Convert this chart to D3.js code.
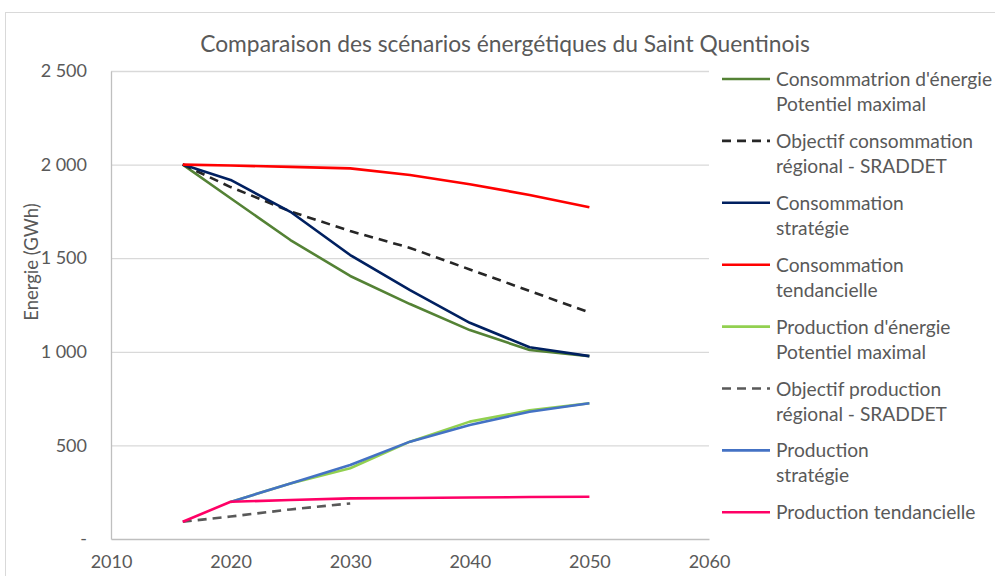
<!DOCTYPE html>
<html>
<head>
<meta charset="utf-8">
<script src="https://cdn.jsdelivr.net/npm/d3@7"></script>
<style>
  body { margin: 0; background: #fff; }
  text { font-family: Lato, "Open Sans", sans-serif; fill: #595959; }
</style>
</head>
<body>
<div id="chart"></div>
<script>
// years where the scenarios have values
var years = [2016, 2020, 2025, 2030, 2035, 2040, 2045, 2050];
var yearsSraddetProd = [2016, 2020, 2025, 2030];

var consoMax = [2000, 1820, 1597, 1405, 1255, 1116, 1010, 977];
var consoSraddet = [2000, 1880, 1750, 1645, 1555, 1440, 1325, 1210];
var consoStrategie = [2000, 1918, 1748, 1517, 1330, 1155, 1024, 977];
var consoTendance = [2000, 1995, 1988, 1980, 1944, 1895, 1838, 1772];
var prodMax = [null, 198, 297, 378, 520, 627, 687, 725];
var prodSraddet = [92, 120, 158, 190];
var prodStrategie = [null, 198, 297, 395, 520, 609, 680, 725];
var prodTendance = [92, 199, 208, 217, 219, 222, 224, 226];

var xTicks = [2010, 2020, 2030, 2040, 2050, 2060];
var yTicks = [0, 500, 1000, 1500, 2000, 2500];

var series = [
  {name: ["Consommatrion d'énergie", "Potentiel maximal"], x: years, y: consoMax, color: "#548235", dash: null},
  {name: ["Objectif consommation", "régional - SRADDET"], x: years, y: consoSraddet, color: "#262626", dash: "9,6"},
  {name: ["Consommation", "stratégie"], x: years, y: consoStrategie, color: "#002060", dash: null},
  {name: ["Consommation", "tendancielle"], x: years, y: consoTendance, color: "#ff0000", dash: null},
  {name: ["Production d'énergie", "Potentiel maximal"], x: years, y: prodMax, color: "#92d050", dash: null},
  {name: ["Objectif production", "régional - SRADDET"], x: yearsSraddetProd, y: prodSraddet, color: "#595959", dash: "9,6"},
  {name: ["Production", "stratégie"], x: years, y: prodStrategie, color: "#4472c4", dash: null},
  {name: ["Production tendancielle"], x: years, y: prodTendance, color: "#ff0066", dash: null}
];

var w = 995, h = 576;

var svg = d3.select("#chart")
    .append("svg")
    .attr("width", w)
    .attr("height", h);

// chart area border
svg.append("rect")
    .attr("x", 5.5).attr("y", 12.5)
    .attr("width", 1000).attr("height", 600)
    .attr("fill", "none")
    .attr("stroke", "#d9d9d9");

var x = d3.scaleLinear().domain([2010, 2060]).range([111, 709]);
var y = d3.scaleLinear().domain([0, 2500]).range([539, 71]);

// horizontal gridlines
svg.append("g")
    .attr("transform", "translate(111,0)")
    .call(d3.axisRight(y).tickValues(yTicks.slice(1)).tickSize(598).tickFormat(""))
    .call(function(g){ g.select(".domain").remove(); })
    .selectAll("line")
    .attr("stroke", "#d9d9d9")
    .attr("stroke-width", 1.3);

// y axis
var yAxis = svg.append("g")
    .attr("transform", "translate(111,0)")
    .call(d3.axisLeft(y).tickValues(yTicks).tickSize(0).tickPadding(24)
      .tickFormat(function(d){ return d === 0 ? "-" : d3.format(",")(d).replace(",", " "); }));
yAxis.select(".domain").attr("stroke", "#bfbfbf").attr("stroke-width", 1.3);
yAxis.selectAll("text").attr("font-size", 18).style("fill", "#595959");

// x axis
var xAxis = svg.append("g")
    .attr("transform", "translate(0,539)")
    .call(d3.axisBottom(x).tickValues(xTicks).tickSize(0).tickPadding(16).tickFormat(d3.format("d")));
xAxis.select(".domain").attr("stroke", "#bfbfbf").attr("stroke-width", 1.3);
xAxis.selectAll("text").attr("font-size", 18).style("fill", "#595959");

// series lines
var line = d3.line()
    .defined(function(d){ return d[1] != null; })
    .x(function(d){ return x(d[0]); })
    .y(function(d){ return y(d[1]); });

svg.selectAll("path.serie")
    .data(series)
    .enter()
    .append("path")
    .attr("class", "serie")
    .attr("d", function(s){
        return line(s.x.map(function(v, i){ return [v, s.y[i]]; }));
    })
    .attr("fill", "none")
    .attr("stroke", function(s){ return s.color; })
    .attr("stroke-width", 2.6)
    .attr("stroke-dasharray", function(s){ return s.dash; })
    .attr("stroke-linejoin", "round");

// title
svg.append("text")
    .attr("x", 505)
    .attr("y", 52)
    .attr("text-anchor", "middle")
    .attr("font-size", 22.8)
    .text("Comparaison des scénarios énergétiques du Saint Quentinois");

// y axis title
svg.append("text")
    .attr("transform", "translate(38,262) rotate(-90)")
    .attr("text-anchor", "middle")
    .attr("font-size", 18.5)
    .text("Energie (GWh)");

// legend
var legend = svg.selectAll("g.legend")
    .data(series)
    .enter()
    .append("g")
    .attr("class", "legend")
    .attr("transform", function(d, i){ return "translate(722," + (79 + i * 61.9) + ")"; });

legend.append("line")
    .attr("x1", 0).attr("x2", 48)
    .attr("stroke", function(s){ return s.color; })
    .attr("stroke-width", 2.6)
    .attr("stroke-dasharray", function(s){ return s.dash; });

legend.append("text")
    .attr("x", 54)
    .attr("font-size", 19.2)
    .selectAll("tspan")
    .data(function(s){ return s.name; })
    .enter()
    .append("tspan")
    .attr("x", 54)
    .attr("y", function(d, i){ return 7 + i * 25; })
    .text(function(d){ return d; });
</script>
</body>
</html>
